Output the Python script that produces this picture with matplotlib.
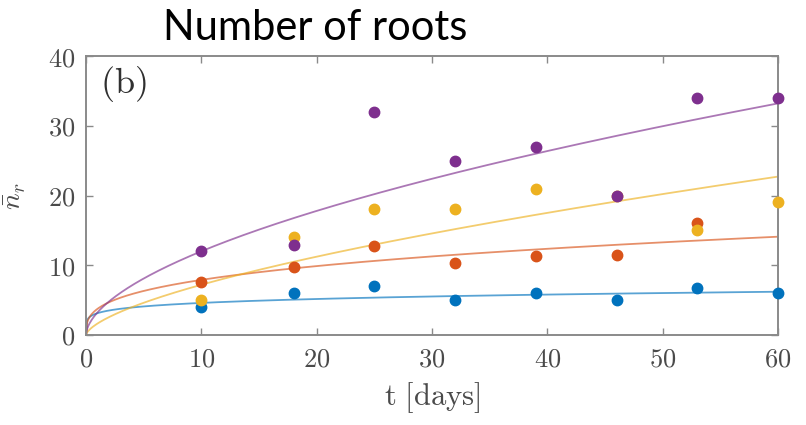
import numpy as np
import matplotlib
matplotlib.use("Agg")
import matplotlib.pyplot as plt

plt.rcParams['mathtext.fontset'] = 'cm'

# Sampling days
days = [10, 18, 25, 32, 39, 46, 53, 60]

# Mean number of roots per treatment (nan where no measurement is shown)
roots_blue = [4, 6, 7, 5, 6, 5, 6.8, 6]
roots_orange = [7.6, 9.7, 12.7, 10.3, 11.3, 11.4, 16, float('nan')]
roots_yellow = [5, 14.1, 18, 18, 21, 20, 15, 19]
roots_purple = [12, 12.9, 32, 25, 27, 20, 34, 34]

# Power-law fits n = a * t**b for each treatment
fit_a = {'blue': 3.13, 'orange': 3.755, 'yellow': 1.646, 'purple': 3.245}
fit_b = {'blue': 0.167, 'orange': 0.323, 'yellow': 0.641, 'purple': 0.568}

colors = {'blue': '#0072BD', 'orange': '#D95319',
          'yellow': '#EDB120', 'purple': '#7E2F8E'}
series = {'blue': roots_blue, 'orange': roots_orange,
          'yellow': roots_yellow, 'purple': roots_purple}

x_ticks = [0, 10, 20, 30, 40, 50, 60]
y_ticks = [0, 10, 20, 30, 40]

fig = plt.figure(figsize=(8.06, 4.25), dpi=100)
ax = fig.add_axes([0.1067, 0.2118, 0.8586, 0.6564])

t = np.linspace(0, 60, 600)
for name in ['blue', 'orange', 'yellow', 'purple']:
    ax.plot(t, fit_a[name] * t ** fit_b[name], color=colors[name],
            lw=1.3, alpha=0.65, zorder=2)
for name in ['blue', 'orange', 'yellow', 'purple']:
    ax.plot(days, series[name], 'o', color=colors[name], ms=7.5,
            mec=colors[name], zorder=3, clip_on=False)

ax.set_xlim(0, 60)
ax.set_ylim(0, 40)
ax.set_xticks(x_ticks)
ax.set_yticks(y_ticks)
ax.set_xticklabels([f'${v}$' for v in x_ticks])
ax.set_yticklabels([f'${v}$' for v in y_ticks])

frame_color = '#8a8a8a'
for sp in ax.spines.values():
    sp.set_color(frame_color)
    sp.set_linewidth(1.4)
ax.tick_params(direction='in', length=5, width=1.0, color=frame_color,
               labelsize=19, labelcolor='#4a4a4a', top=True, right=True, pad=8)

ax.set_xlabel(r'$\mathrm{t\ [days]}$', fontsize=22, color='#4a4a4a', labelpad=6)
ax.set_ylabel(r'$\bar{n}_r$', fontsize=20, color='#4a4a4a', labelpad=14)

ax.text(0.02, 0.97, r'$\mathrm{(b)}$', transform=ax.transAxes, fontsize=26,
        color='#303030', ha='left', va='top')

fig.text(0.391, 0.933, 'Number of roots', fontsize=30, family='Lato',
         ha='center', va='center', color='black')

fig.savefig('out.png', dpi=100)
